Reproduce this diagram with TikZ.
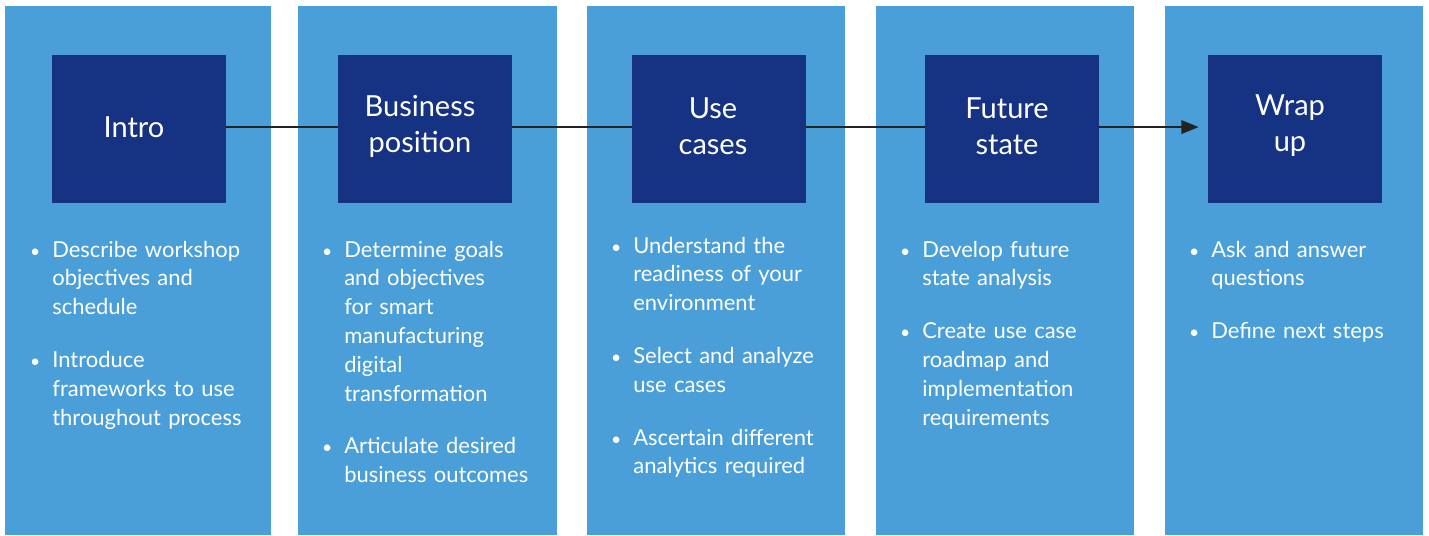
\documentclass[tikz,border=0pt]{standalone}
\usepackage{fontspec}
\setmainfont{Lato}
\usetikzlibrary{arrows.meta}
\usetikzlibrary{positioning}

\definecolor{colblue}{RGB}{74,159,216}
\definecolor{stepblue}{RGB}{22,51,131}
\definecolor{linkgray}{RGB}{35,35,35}

\newenvironment{bulletlist}{\begin{list}{\makebox[0pt][c]{\fontsize{10}{10}\selectfont\textbullet}}{\setlength{\leftmargin}{10.8pt}\setlength{\labelwidth}{0pt}\setlength{\labelsep}{9.8pt}\setlength{\itemindent}{0pt}\setlength{\itemsep}{13.6pt}\setlength{\parsep}{0pt}\setlength{\topsep}{0pt}\setlength{\partopsep}{0pt}}}{\end{list}}

\begin{document}
\begin{tikzpicture}[x=0.02cm,y=-0.02cm,
  stepbox/.style={fill=stepblue,inner sep=0pt,minimum width=3.48cm,minimum height=2.96cm},
  steptitle/.style={text=white,inner sep=0pt,align=center,font=\fontsize{16.5}{20.4}\selectfont},
  points/.style={anchor=north west,inner sep=0pt,text=white,text width=128pt,align=left,font=\fontsize{12.5}{16.4}\selectfont},
  link/.style={draw=linkgray,line width=1.6pt}]
  \useasboundingbox (0,0) rectangle (1429,535);
  % columns
  \fill[colblue] (5,6) rectangle (271,535);
  \fill[colblue] (298,6) rectangle (557,535);
  \fill[colblue] (587,6) rectangle (845,535);
  \fill[colblue] (876,6) rectangle (1134,535);
  \fill[colblue] (1165,6) rectangle (1423,535);
  % steps
  \node[stepbox] (intro) at (139,129) {};
  \node[stepbox] (business) at (425,129) {};
  \node[stepbox] (usecases) at (719,129) {};
  \node[stepbox] (future) at (1012,129) {};
  \node[stepbox] (wrap) at (1295,129) {};
  \node[steptitle] (introtitle) at (134,127) {Intro};
  \node[steptitle] (businesstitle) at (420,126) {Business\\position};
  \node[steptitle] (usecasestitle) at (713,126) {Use\\cases};
  \node[steptitle] (futuretitle) at (1007,126) {Future\\state};
  \node[steptitle] (wraptitle) at (1290,126) {Wrap\\up};
  \draw[link] ([yshift=1.1pt]intro.east) -- ([yshift=1.1pt]business.west);
  \draw[link] ([yshift=1.1pt]business.east) -- ([yshift=1.1pt]usecases.west);
  \draw[link] ([yshift=1.1pt]usecases.east) -- ([yshift=1.1pt]future.west);
  \draw[link,-{Triangle[length=10pt,width=7.5pt]},shorten >=5pt] ([yshift=1.1pt]future.east) -- ([yshift=1.1pt]wrap.west);
  % bullet points
  \node[points] (introtext) at (33,228) {\begin{bulletlist}
    \item Describe workshop\\objectives and\\schedule
    \item Introduce\\frameworks to use\\throughout process
  \end{bulletlist}};
  \node[points] (businesstext) at (325,228) {\begin{bulletlist}
    \item Determine goals\\and objectives\\for smart\\manufacturing\\digital\\transformation
    \item Articulate desired\\business outcomes
  \end{bulletlist}};
  \node[points] (usecasestext) at (614,224) {\begin{bulletlist}
    \item Understand the\\readiness of your\\environment
    \item Select and analyze\\use cases
    \item Ascertain different\\analytics required
  \end{bulletlist}};
  \node[points] (futuretext) at (903,228) {\begin{bulletlist}
    \item Develop future\\state analysis
    \item Create use case\\roadmap and\\implementation\\requirements
  \end{bulletlist}};
  \node[points] (wraptext) at (1192,228) {\begin{bulletlist}
    \item Ask and answer\\questions
    \item Define next steps
  \end{bulletlist}};
\end{tikzpicture}
\end{document}
